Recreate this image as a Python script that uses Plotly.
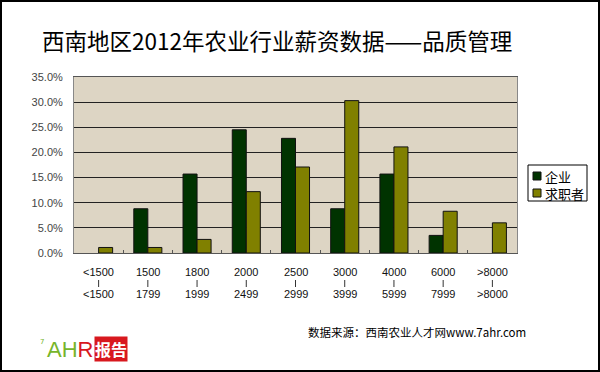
import plotly.graph_objects as go

low_labels = ["&lt;1500", "1500", "1800", "2000", "2500", "3000", "4000", "6000", "&gt;8000"]
high_labels = ["&lt;1500", "1799", "1999", "2499", "2999", "3999", "5999", "7999", "&gt;8000"]
categories = [f"{a}-{b}" for a, b in zip(low_labels, high_labels)]
series_names = ["企业", "求职者"]
enterprise = [0.0, 8.8, 15.7, 24.5, 22.8, 8.8, 15.7, 3.5, 0.0]
jobseeker = [1.1, 1.1, 2.7, 12.2, 17.1, 30.3, 21.1, 8.3, 6.0]
enterprise = [v / 100 for v in enterprise]
jobseeker = [v / 100 for v in jobseeker]
colors = ["#003300", "#808000"]

W, H = 600, 372
L, R, T, B = 74, 517, 77, 253


def px(x):
    return (x - L) / (R - L)


def py(y):
    return (B - y) / (B - T)


def outline(vals):
    return [1 if v > 0 else 0 for v in vals]


fig = go.Figure()
for name, vals, col in zip(series_names, [enterprise, jobseeker], colors):
    fig.add_trace(go.Bar(name=name, x=categories, y=vals,
                         marker=dict(color=col, line=dict(color="#111", width=outline(vals)))))

shapes = [
    dict(type="rect", xref="paper", yref="paper", x0=px(1), x1=px(599), y0=py(1), y1=py(371),
         line=dict(color="black", width=2), fillcolor="rgba(0,0,0,0)"),
    # legend box
    dict(type="rect", xref="paper", yref="paper", x0=px(528), x1=px(587), y0=py(165), y1=py(201),
         line=dict(color="black", width=1), fillcolor="white"),
]
annotations = [
    dict(text="西南地区2012年农业行业薪资数据——品质管理", xref="paper", yref="paper",
         x=px(40), y=py(40), xanchor="left", yanchor="middle", showarrow=False,
         font=dict(size=22.5, color="black", family="Noto Sans CJK SC")),
    dict(text="数据来源：西南农业人才网www.7ahr.com", xref="paper", yref="paper",
         x=px(306), y=py(332), xanchor="left", yanchor="middle", showarrow=False,
         font=dict(size=11.5, color="black", family="Noto Sans CJK SC")),
    dict(text="<span style='color:#77B52B'>AH</span><span style='color:#D8181E'>R</span>",
         xref="paper", yref="paper", x=px(45), y=py(349), xanchor="left", yanchor="middle",
         showarrow=False, font=dict(size=22, family="Liberation Sans")),
    dict(text="7", xref="paper", yref="paper", x=px(38), y=py(342), xanchor="left",
         yanchor="middle", showarrow=False, font=dict(size=7, color="#77B52B", family="DejaVu Sans")),
    dict(text="<b>报告</b>", xref="paper", yref="paper", x=px(94), y=py(349),
         xanchor="left", yanchor="middle", showarrow=False, bgcolor="#D8181E",
         borderpad=0, font=dict(size=16, color="black" if False else "white", family="Noto Sans CJK SC")),
]

# custom legend: swatches plus one multi-line text block
for i, col in enumerate(colors):
    yc = 176 + i * 17
    shapes.append(dict(type="rect", xref="paper", yref="paper", x0=px(533), x1=px(541),
                       y0=py(yc + 4), y1=py(yc - 4), line=dict(color="#111", width=1),
                       fillcolor=col))
annotations.append(dict(text="<br>".join(series_names), xref="paper", yref="paper",
                        x=px(543), y=py(184.5), xanchor="left", yanchor="middle", align="left",
                        showarrow=False,
                        font=dict(size=13, color="black", family="Noto Sans CJK SC")))

# category labels (two lines joined by a short bar)
for cat, lo, hi in zip(categories, low_labels, high_labels):
    annotations.append(dict(text=lo, xref="x", yref="paper", x=cat, y=py(272),
                            yanchor="middle", showarrow=False,
                            font=dict(size=11, color="#111", family="Liberation Sans")))
    annotations.append(dict(text=hi, xref="x", yref="paper", x=cat, y=py(294),
                            yanchor="middle", showarrow=False,
                            font=dict(size=11, color="#111", family="Liberation Sans")))
    shapes.append(dict(type="line", xref="x", yref="paper", x0=cat, x1=cat,
                       y0=py(280), y1=py(287), line=dict(color="#333", width=1)))

fig.update_layout(
    width=W, height=H,
    margin=dict(l=L, r=W - R, t=T, b=H - B, autoexpand=False),
    paper_bgcolor="white",
    plot_bgcolor="#DDD5C4",
    barmode="group", bargap=0.43, bargroupgap=0,
    font=dict(family="Noto Sans CJK SC, DejaVu Sans", size=11, color="#222"),
    showlegend=False,
    xaxis=dict(type="category", tickson="boundaries", ticks="inside", ticklen=3,
               tickcolor="#555", showline=True, linecolor="#555", linewidth=1,
               showticklabels=False, showgrid=False, mirror=True),
    yaxis=dict(range=[0, 0.35], dtick=0.05, tickformat=".1%", showgrid=True,
               gridcolor="#222", gridwidth=1, showline=True, linecolor="#888",
               mirror=True, ticks="", zeroline=False, ticklabelstandoff=8,
               tickfont=dict(size=11, family="Liberation Sans", color="#444")),
    shapes=shapes,
    annotations=annotations,
)

fig.write_html("out.html", config={"displayModeBar": False},
               post_script="document.body.style.margin='0';document.body.style.overflow='hidden';")
